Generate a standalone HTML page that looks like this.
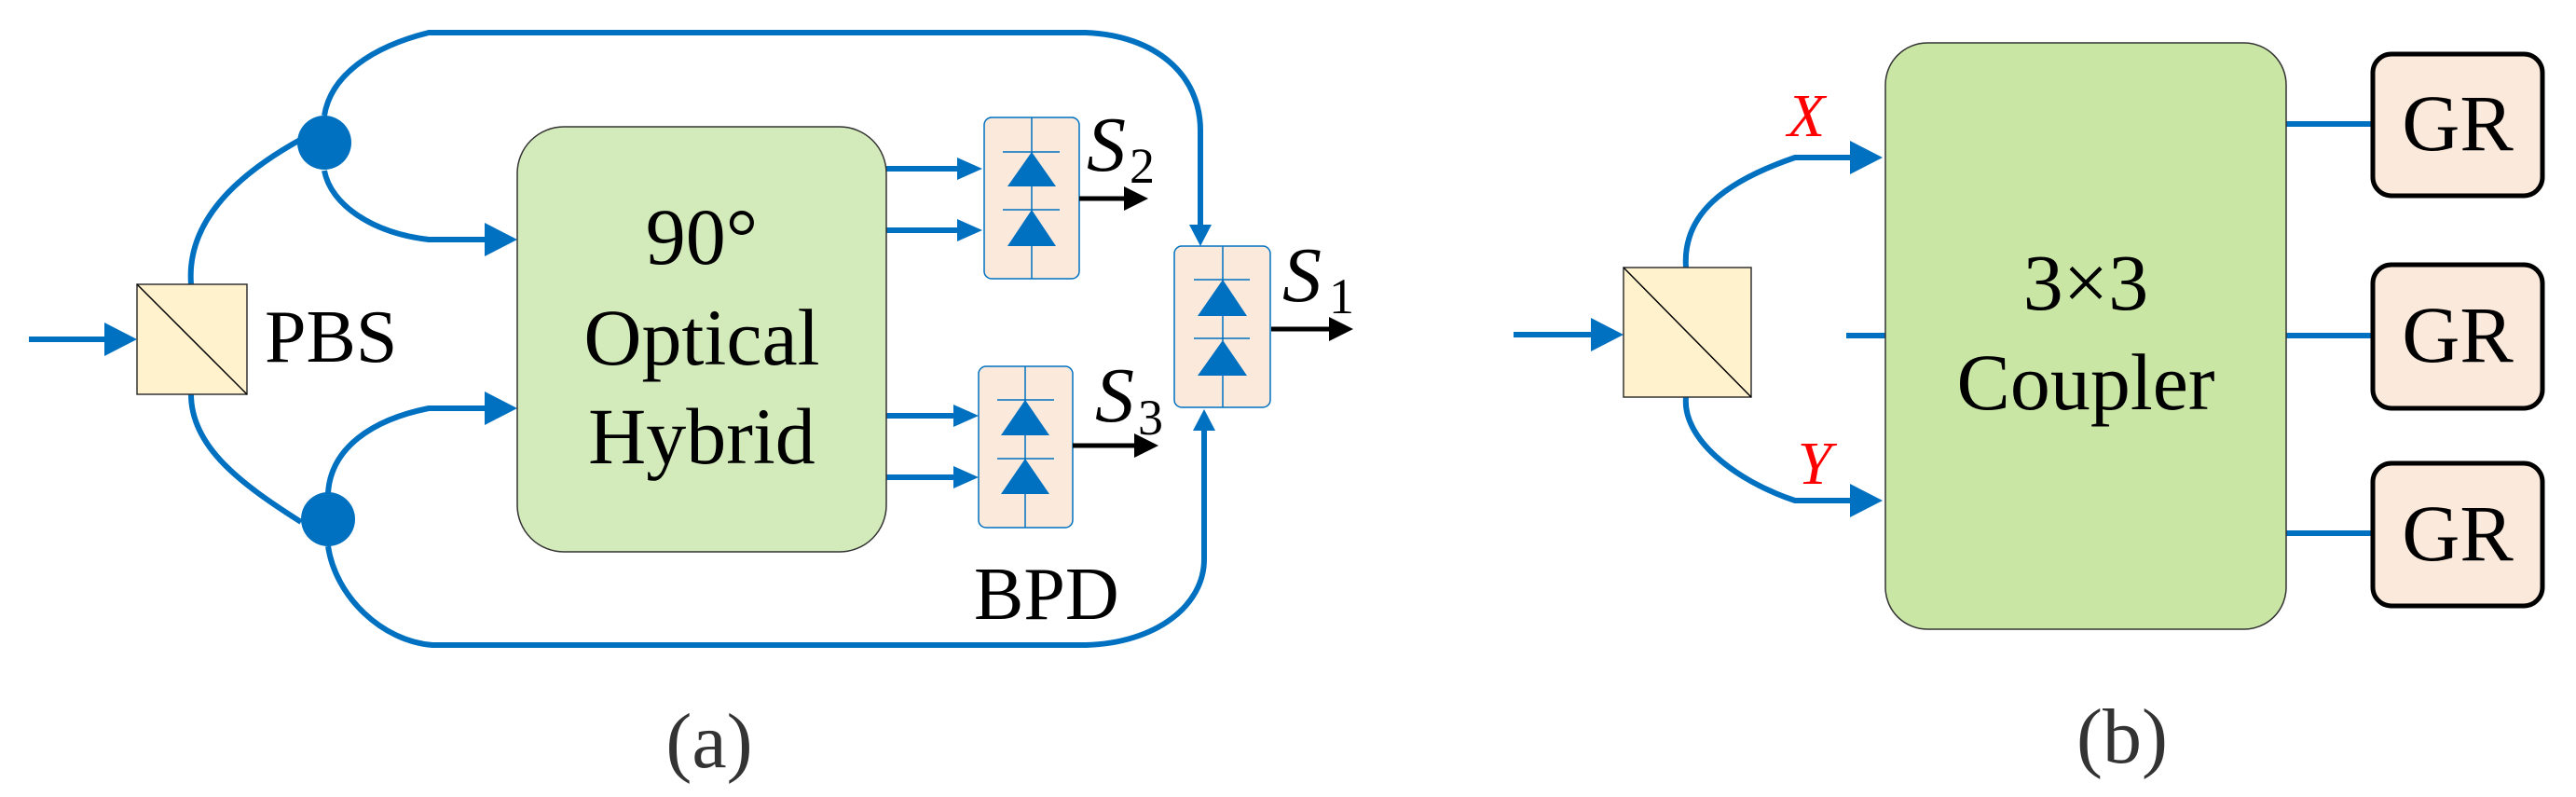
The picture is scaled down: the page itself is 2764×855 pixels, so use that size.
<!DOCTYPE html>
<html><head><meta charset="utf-8"><style>
html,body{margin:0;padding:0;background:#fff;}
svg{display:block;}
svg text{font-family:"Liberation Serif","DejaVu Serif Condensed","DejaVu Serif","Noto Serif CJK SC",serif;}
</style></head><body>
<svg width="2764" height="855" viewBox="0 0 2764 855" xmlns="http://www.w3.org/2000/svg">
<g fill="none" stroke="#0070C0" stroke-width="6">
<line x1="31" y1="364" x2="120" y2="364"/>
<path d="M205,305 C200,240 250,190 322,150"/>
<path d="M205,423 C205,480 260,520 323,560"/>
<path d="M348,124 C355,80 400,50 460,35 L1165,35 C1240,38 1288,80 1288,140 L1288,248"/>
<path d="M348,183 C355,220 400,250 460,257 L525,257"/>
<path d="M352,529 C355,480 400,450 460,438 L525,438"/>
<path d="M352,586 C360,640 410,688 464,692 L1165,692 C1240,690 1292,650 1292,600 L1292,456"/>
<line x1="951" y1="181" x2="1032" y2="181"/>
<line x1="951" y1="247" x2="1032" y2="247"/>
<line x1="951" y1="446" x2="1028" y2="446"/>
<line x1="951" y1="512" x2="1028" y2="512"/>
<line x1="1624" y1="359" x2="1710" y2="359"/>
<path d="M1809,287 C1805,230 1850,195 1926,169 L1990,169"/>
<path d="M1809,426 C1805,470 1860,515 1926,537 L1990,537"/>
<line x1="1981" y1="360" x2="2023" y2="360"/>
<line x1="2453" y1="133" x2="2546" y2="133"/>
<line x1="2453" y1="360" x2="2546" y2="360"/>
<line x1="2453" y1="572" x2="2546" y2="572"/>
</g>
<g fill="#0070C0">
<polygon points="147,364 112,346 112,382"/>
<ellipse cx="348" cy="153" rx="29" ry="29"/>
<ellipse cx="352" cy="557" rx="29" ry="29"/>
<polygon points="555,257 520,239 520,275"/>
<polygon points="555,438 520,420 520,456"/>
<polygon points="1054,181 1027,169 1027,193"/>
<polygon points="1054,247 1027,235 1027,259"/>
<polygon points="1050,446 1023,434 1023,458"/>
<polygon points="1050,512 1023,500 1023,524"/>
<polygon points="1288,264 1276,241 1300,241"/>
<polygon points="1292,439 1280,462 1304,462"/>
<polygon points="1742,359 1707,341 1707,377"/>
<polygon points="2020,169 1985,151 1985,187"/>
<polygon points="2020,537 1985,519 1985,555"/>
</g>
<rect x="147" y="305" width="118" height="118" fill="#FFF2CC" stroke="#333" stroke-width="1.5"/>
<line x1="147" y1="305" x2="265" y2="423" stroke="#000" stroke-width="1.5"/>
<text x="284" y="388" font-size="80">PBS</text>
<rect x="555" y="136" width="396" height="456" rx="50" fill="#D3EBBA" stroke="#333" stroke-width="1.5"/>
<g font-size="86" text-anchor="middle">
<text x="753" y="283">90°</text>
<text x="753" y="391">Optical</text>
<text x="753" y="497">Hybrid</text>
</g>
<g stroke="#0070C0" stroke-width="1.5">
<rect x="1056" y="126" width="102" height="173" rx="8" fill="#FBE9DC"/>
<line x1="1107" y1="126" x2="1107" y2="299"/>
<line x1="1076" y1="163" x2="1137" y2="163"/>
<line x1="1076" y1="225" x2="1137" y2="225"/>
<rect x="1050" y="393" width="101" height="173" rx="8" fill="#FBE9DC"/>
<line x1="1100" y1="393" x2="1100" y2="566"/>
<line x1="1070" y1="429" x2="1131" y2="429"/>
<line x1="1070" y1="492" x2="1131" y2="492"/>
<rect x="1260" y="264" width="103" height="173" rx="8" fill="#FBE9DC"/>
<line x1="1312" y1="264" x2="1312" y2="437"/>
<line x1="1281" y1="300" x2="1341" y2="300"/>
<line x1="1281" y1="363" x2="1341" y2="363"/>
</g>
<g fill="#0070C0">
<polygon points="1107,163 1081,200 1133,200"/>
<polygon points="1107,225 1081,264 1133,264"/>
<polygon points="1100,429 1074,467 1126,467"/>
<polygon points="1100,492 1074,530 1126,530"/>
<polygon points="1312,300 1285,339 1338,339"/>
<polygon points="1312,365 1285,403 1338,403"/>
</g>
<g stroke="#000" stroke-width="5">
<line x1="1158" y1="213" x2="1212" y2="213"/>
<line x1="1151" y1="478" x2="1222" y2="478"/>
<line x1="1364" y1="353" x2="1432" y2="353"/>
</g>
<g fill="#000">
<polygon points="1232,213 1206,200 1206,226"/>
<polygon points="1243,478 1217,465 1217,491"/>
<polygon points="1452,353 1426,340 1426,366"/>
</g>
<g font-size="84" font-style="italic">
<text x="1166" y="183">S</text>
<text x="1175" y="452">S</text>
<text x="1376" y="323">S</text>
</g>
<g font-size="54">
<text x="1212" y="196">2</text>
<text x="1221" y="466">3</text>
<text x="1426" y="336">1</text>
</g>
<text x="1045" y="664" font-size="80">BPD</text>
<text x="761" y="823" font-size="84" fill="#333" text-anchor="middle">(a)</text>
<rect x="1742" y="287" width="137" height="139" fill="#FFF2CC" stroke="#333" stroke-width="1.5"/>
<line x1="1742" y1="287" x2="1879" y2="426" stroke="#000" stroke-width="1.5"/>
<text x="1938" y="146" font-size="66" font-style="italic" fill="#FF0000" text-anchor="middle">X</text>
<text x="1947" y="519" font-size="66" font-style="italic" fill="#FF0000" text-anchor="middle">Y</text>
<rect x="2023" y="46" width="430" height="629" rx="45" fill="#C9E6A5" stroke="#333" stroke-width="1.5"/>
<g font-size="86" text-anchor="middle">
<text x="2238" y="332">3×3</text>
<text x="2238" y="439">Coupler</text>
</g>
<g fill="#FBE9DC" stroke="#000" stroke-width="5">
<rect x="2546" y="58" width="182" height="152" rx="20"/>
<rect x="2546" y="284" width="182" height="154" rx="20"/>
<rect x="2546" y="497" width="182" height="153" rx="20"/>
</g>
<g font-size="86" text-anchor="middle">
<text x="2637" y="161">GR</text>
<text x="2637" y="388">GR</text>
<text x="2637" y="601">GR</text>
</g>
<text x="2277" y="818" font-size="84" fill="#333" text-anchor="middle">(b)</text>
</svg>
</body></html>
